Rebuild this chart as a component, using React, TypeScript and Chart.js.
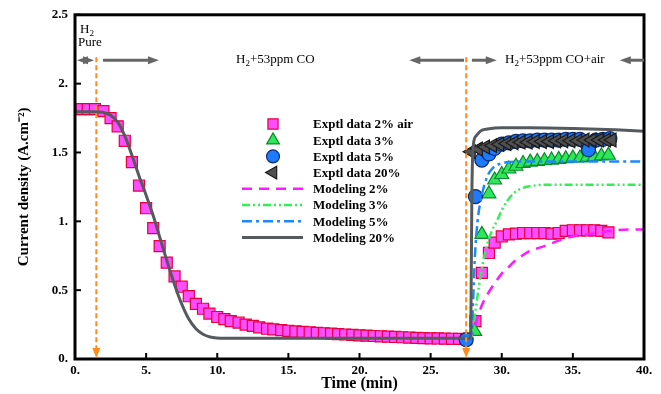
import React, { useEffect, useRef } from "react";
import { Chart, registerables } from "chart.js";

Chart.register(...registerables);

// ---------- tick labels ----------
const xTickLabels = ["0.", "5.", "10.", "15.", "20.", "25.", "30.", "35.", "40."];
const yTickLabels = ["0.", "0.5", "1.", "1.5", "2.", "2.5"];

// ---------- experimental data ----------
const exp2Time = [
  0, 0.45, 0.9, 1.4, 2.0, 2.5, 3.0, 3.5, 4.0, 4.5, 5.0, 5.5, 5.95, 6.45, 7.0, 7.5, 8.0, 8.5, 9.0, 9.45,
  10.0, 10.5, 10.95, 11.5, 12.0, 12.5, 12.95, 13.5, 13.95, 14.5, 15.0, 15.5, 16.0, 16.5, 17.0, 17.5,
  18.0, 18.5, 19.0, 19.5, 20.0, 20.5, 21.0, 21.5, 22.0, 22.5, 23.0, 23.5, 24.0, 24.5, 25.0, 25.5, 26.0,
  26.5, 27.0, 27.5, 28.15, 28.6, 29.1, 29.5, 30.0, 30.5, 31.0, 31.5, 32.0, 32.5, 33.0, 33.5, 34.0, 34.5,
  35.0, 35.5, 36.0, 36.5, 37.0, 37.5,
];
const exp2Value = [
  1.815, 1.815, 1.815, 1.815, 1.8, 1.75, 1.69, 1.585, 1.43, 1.26, 1.095, 0.95, 0.82, 0.7, 0.6, 0.525, 0.456, 0.4, 0.365, 0.33,
  0.305, 0.29, 0.275, 0.265, 0.25, 0.24, 0.23, 0.22, 0.215, 0.21, 0.205, 0.2, 0.197, 0.194, 0.19, 0.187,
  0.184, 0.181, 0.178, 0.175, 0.172, 0.17, 0.167, 0.165, 0.163, 0.16, 0.158, 0.156, 0.154, 0.152, 0.15, 0.149, 0.148,
  0.147, 0.146, 0.145, 0.275, 0.625, 0.77, 0.845, 0.89, 0.905, 0.91, 0.915, 0.915, 0.915, 0.915, 0.91, 0.915, 0.93,
  0.935, 0.935, 0.935, 0.935, 0.93, 0.92,
];

const exp3Time = [28.1, 28.6, 29.1, 29.5, 30.0, 30.5, 31.0, 31.5, 32.0, 32.5, 33.0, 33.5, 34.0, 34.5, 35.0, 35.5, 36.0, 36.5, 37.0, 37.5];
const exp3Value = [0.2, 0.905, 1.2, 1.3, 1.34, 1.38, 1.4, 1.42, 1.43, 1.435, 1.44, 1.445, 1.45, 1.455, 1.46, 1.46, 1.465, 1.47, 1.475, 1.48];

const exp5Time = [27.5, 28.15, 28.6, 29.1, 29.5, 30.0, 30.5, 31.0, 31.5, 32.0, 32.5, 33.0, 33.5, 34.0, 34.5, 35.0, 35.5, 36.1, 36.6, 37.1, 37.6];
const exp5Value = [0.14, 1.18, 1.445, 1.49, 1.53, 1.56, 1.57, 1.58, 1.585, 1.585, 1.59, 1.59, 1.59, 1.59, 1.595, 1.595, 1.595, 1.52, 1.59, 1.595, 1.6];

const exp20Time = [27.85, 28.35, 28.85, 29.35, 29.85, 30.35, 30.85, 31.35, 31.85, 32.35, 32.85, 33.35, 33.85, 34.35, 34.85, 35.35, 35.85, 36.35, 36.85, 37.35, 37.75];
const exp20Value = [1.505, 1.525, 1.54, 1.55, 1.56, 1.565, 1.57, 1.575, 1.575, 1.58, 1.58, 1.58, 1.585, 1.585, 1.585, 1.585, 1.59, 1.59, 1.59, 1.59, 1.59];

// ---------- modeling curves ----------
const mod2Time = [27.5, 27.85, 28.0, 28.3, 28.6, 29.0, 29.5, 30.0, 30.5, 31.0, 31.5, 32.0, 33.0, 34.0, 35.0, 36.0, 37.0, 38.0, 39.0, 40.0];
const mod2Value = [0.15, 0.16, 0.2, 0.3, 0.39, 0.47, 0.55, 0.62, 0.67, 0.72, 0.755, 0.785, 0.82, 0.86, 0.89, 0.905, 0.92, 0.935, 0.94, 0.94];

const mod3Time = [27.5, 27.85, 28.0, 28.15, 28.4, 28.7, 29.0, 29.3, 29.65, 30.0, 30.4, 30.8, 31.3, 32.0, 33.0, 40.0];
const mod3Value = [0.15, 0.16, 0.24, 0.35, 0.53, 0.71, 0.84, 0.93, 1.0, 1.08, 1.15, 1.2, 1.235, 1.255, 1.265, 1.265];

const mod5Time = [27.5, 27.85, 28.0, 28.1, 28.3, 28.6, 29.0, 29.4, 29.8, 30.5, 32.0, 40.0];
const mod5Value = [0.15, 0.18, 0.45, 0.72, 1.0, 1.19, 1.33, 1.39, 1.415, 1.43, 1.435, 1.435];

const mod20Time = [
  0, 1.5, 2.0, 2.5, 3.0, 3.5, 4.0, 4.5, 5.0, 5.5, 6.0, 6.5, 7.0, 7.5, 8.0, 8.5, 9.0, 9.5, 10.0, 11.0,
  27.8, 27.85, 27.9, 28.0, 28.2, 28.5, 29.0, 30.0, 32.0, 35.0, 38.0, 40.0,
];
const mod20Value = [
  1.795, 1.795, 1.79, 1.77, 1.72, 1.62, 1.48, 1.33, 1.19, 1.04, 0.87, 0.7, 0.54, 0.4, 0.29, 0.22, 0.18, 0.16, 0.153, 0.15,
  0.15, 0.5, 1.2, 1.55, 1.62, 1.655, 1.67, 1.68, 1.68, 1.675, 1.665, 1.655,
];

// ---------- legend labels & annotations ----------
const legendLabels = [
  "Exptl data 2% air",
  "Exptl data 3%",
  "Exptl data 5%",
  "Exptl data 20%",
  "Modeling 2%",
  "Modeling 3%",
  "Modeling 5%",
  "Modeling 20%",
];
const switchTimes = [1.5, 27.5];
const phaseArrowY = 2.17;
const phaseArrows = [
  { from: 0.14, to: 1.34, head: "both" },
  { from: 1.97, to: 5.9, head: "end" },
  { from: 23.5, to: 27.35, head: "start" },
  { from: 27.9, to: 29.65, head: "end" },
  { from: 38.3, to: 40, head: "start" },
];

const pts = (t: number[], v: number[]) => t.map((x, i) => ({ x, y: v[i] }));

const FONT = '"Liberation Serif", "Times New Roman", serif';

function drawMarker(ctx: CanvasRenderingContext2D, ds: any, x: number, y: number) {
  const r = ds.pointRadius;
  ctx.save();
  ctx.fillStyle = ds.backgroundColor;
  ctx.strokeStyle = ds.borderColor;
  ctx.lineWidth = ds.borderWidth;
  ctx.beginPath();
  if (ds.pointStyle === "rect") {
    const s = Math.SQRT1_2 * r;
    ctx.rect(x - s, y - s, 2 * s, 2 * s);
  } else if (ds.pointStyle === "circle") {
    ctx.arc(x, y, r, 0, Math.PI * 2);
  } else {
    let rad = ((ds.pointRotation || 0) * Math.PI) / 180;
    ctx.moveTo(x + Math.sin(rad) * r, y - Math.cos(rad) * r);
    rad += (2 * Math.PI) / 3;
    ctx.lineTo(x + Math.sin(rad) * r, y - Math.cos(rad) * r);
    rad += (2 * Math.PI) / 3;
    ctx.lineTo(x + Math.sin(rad) * r, y - Math.cos(rad) * r);
    ctx.closePath();
  }
  ctx.fill();
  ctx.stroke();
  ctx.restore();
}

function drawChem(ctx: CanvasRenderingContext2D, x: number, y: number, rest: string, size: number) {
  ctx.font = `${size}px ${FONT}`;
  ctx.fillText("H", x, y);
  let w = ctx.measureText("H").width;
  ctx.font = `${Math.round(size * 0.7)}px ${FONT}`;
  ctx.fillText("2", x + w, y + 3);
  w += ctx.measureText("2").width;
  ctx.font = `${size}px ${FONT}`;
  if (rest) ctx.fillText(rest, x + w, y);
}

function arrowHead(ctx: CanvasRenderingContext2D, tipX: number, tipY: number, dir: number) {
  ctx.beginPath();
  ctx.moveTo(tipX, tipY);
  ctx.lineTo(tipX - dir * 11, tipY - 4);
  ctx.lineTo(tipX - dir * 11, tipY + 4);
  ctx.closePath();
  ctx.fill();
}

const overlayPlugin = {
  id: "overlay",
  afterDraw(chart: any) {
    const { ctx, chartArea: ca, scales } = chart;
    const xs = scales.x;
    const ys = scales.y;
    ctx.save();

    // inner ticks
    ctx.strokeStyle = "#000";
    ctx.lineWidth = 2;
    xs.ticks.forEach((t: any) => {
      const px = xs.getPixelForValue(t.value);
      ctx.beginPath();
      ctx.moveTo(px, ca.bottom);
      ctx.lineTo(px, ca.bottom - 6);
      ctx.stroke();
    });
    ys.ticks.forEach((t: any) => {
      const py = ys.getPixelForValue(t.value);
      ctx.beginPath();
      ctx.moveTo(ca.left, py);
      ctx.lineTo(ca.left + 6, py);
      ctx.stroke();
    });

    // frame
    ctx.lineWidth = 3;
    ctx.strokeRect(ca.left, ca.top, ca.right - ca.left, ca.bottom - ca.top);

    // orange switch markers
    const arrowYpx = ys.getPixelForValue(phaseArrowY);
    switchTimes.forEach((t) => {
      const px = xs.getPixelForValue(t);
      ctx.strokeStyle = "#FF8C1A";
      ctx.fillStyle = "#FF8C1A";
      ctx.lineWidth = 2;
      ctx.setLineDash([5, 3]);
      ctx.beginPath();
      ctx.moveTo(px, arrowYpx - 3);
      ctx.lineTo(px, ca.bottom - 8);
      ctx.stroke();
      ctx.setLineDash([]);
      ctx.beginPath();
      ctx.moveTo(px, ca.bottom - 1);
      ctx.lineTo(px - 4, ca.bottom - 11);
      ctx.lineTo(px + 4, ca.bottom - 11);
      ctx.closePath();
      ctx.fill();
    });

    // gray phase arrows
    ctx.strokeStyle = "#666666";
    ctx.fillStyle = "#666666";
    ctx.lineWidth = 3;
    phaseArrows.forEach((a) => {
      const x1 = xs.getPixelForValue(a.from);
      const x2 = xs.getPixelForValue(a.to);
      const sx = a.head === "start" || a.head === "both" ? x1 + 8 : x1;
      const ex = a.head === "end" || a.head === "both" ? x2 - 8 : x2;
      ctx.beginPath();
      ctx.moveTo(sx, arrowYpx);
      ctx.lineTo(ex, arrowYpx);
      ctx.stroke();
      if (a.head === "start" || a.head === "both") arrowHead(ctx, x1, arrowYpx, -1);
      if (a.head === "end" || a.head === "both") arrowHead(ctx, x2, arrowYpx, 1);
    });

    // phase texts
    ctx.fillStyle = "#000";
    ctx.textAlign = "left";
    ctx.textBaseline = "alphabetic";
    drawChem(ctx, ca.left + 5, 33, "", 13);
    ctx.font = `13px ${FONT}`;
    ctx.fillText("Pure", ca.left + 3, 46);
    drawChem(ctx, ca.left + 161, 63, "+53ppm CO", 13);
    drawChem(ctx, ca.left + 430, 63, "+53ppm CO+air", 13);

    // legend
    const ds = chart.data.datasets;
    const lx = ca.left + 167;
    const lx2 = ca.left + 228;
    const mx = ca.left + 198;
    const tx = ca.left + 238;
    const y0 = 124;
    const step = 16.2;
    ctx.font = `bold 13px ${FONT}`;
    ctx.textBaseline = "middle";
    for (let i = 0; i < 8; i++) {
      const d = ds[i];
      const yy = y0 + i * step;
      if (i < 4) {
        drawMarker(ctx, { ...d, pointRadius: d.pointRadius * 0.92 }, mx, yy);
      } else {
        ctx.save();
        ctx.strokeStyle = d.borderColor;
        ctx.lineWidth = d.borderWidth;
        ctx.setLineDash(d.borderDash || []);
        ctx.beginPath();
        ctx.moveTo(lx, yy);
        ctx.lineTo(lx2, yy);
        ctx.stroke();
        ctx.restore();
      }
      ctx.fillStyle = "#000";
      ctx.fillText(legendLabels[i], tx, yy + 1);
    }
    ctx.restore();
  },
};

export default function App() {
  const canvasRef = useRef<HTMLCanvasElement | null>(null);

  useEffect(() => {
    const canvas = canvasRef.current;
    if (!canvas) return;
    Chart.defaults.font.family = FONT;
    Chart.defaults.color = "#000";

    const marker = (label: string, data: any, style: string, bg: string, border: string, r: number, order: number, rot = 0) => ({
      label,
      data,
      showLine: false,
      pointStyle: style,
      pointRadius: r,
      pointRotation: rot,
      backgroundColor: bg,
      borderColor: border,
      borderWidth: 1.2,
      pointBackgroundColor: bg,
      pointBorderColor: border,
      pointBorderWidth: 1.2,
      order,
    });
    const model = (label: string, data: any, color: string, dash: number[], width: number, order: number) => ({
      label,
      data,
      showLine: true,
      pointRadius: 0,
      borderColor: color,
      backgroundColor: color,
      borderWidth: width,
      borderDash: dash,
      cubicInterpolationMode: "monotone",
      fill: false,
      order,
    });

    const chart = new Chart(canvas, {
      type: "scatter",
      data: {
        datasets: [
          marker(legendLabels[0], pts(exp2Time, exp2Value), "rect", "#FF4DFF", "#E8003C", 7.8, 7),
          marker(legendLabels[1], pts(exp3Time, exp3Value), "triangle", "#2EE65A", "#0A8A2A", 8, 6),
          marker(legendLabels[2], pts(exp5Time, exp5Value), "circle", "#1E7BFF", "#0A2A6B", 7, 5),
          marker(legendLabels[3], pts(exp20Time, exp20Value), "triangle", "#505050", "#1A1A1A", 8, 4, 270),
          model(legendLabels[4], pts(mod2Time, mod2Value), "#FF1AFF", [10, 7], 2.5, 3),
          model(legendLabels[5], pts(mod3Time, mod3Value), "#33EE55", [8, 3, 2, 3, 2, 3], 2.5, 2),
          model(legendLabels[6], pts(mod5Time, mod5Value), "#1E88FF", [10, 4, 3, 4], 2.5, 1),
          model(legendLabels[7], pts(mod20Time, mod20Value), "#555A5E", [], 3, 0),
        ] as any,
      },
      options: {
        responsive: false,
        animation: false,
        devicePixelRatio: 1,
        layout: { padding: { left: 0, top: 12, right: 17, bottom: 0 } },
        plugins: { legend: { display: false }, tooltip: { enabled: false } },
        scales: {
          x: {
            type: "linear",
            min: 0,
            max: 40,
            ticks: {
              stepSize: 5,
              autoSkip: false,
              maxRotation: 0,
              padding: 4,
              color: "#000",
              font: { size: 13, weight: "bold" },
              callback: (_v: any, i: number) => xTickLabels[i],
            },
            grid: { display: false, drawTicks: false },
            border: { display: false },
            title: {
              display: true,
              text: "Time (min)",
              color: "#000",
              font: { size: 16, weight: "bold" },
              padding: { top: 0, bottom: 1 },
            },
            afterFit: (s: any) => {
              s.height = 35;
            },
          },
          y: {
            type: "linear",
            min: 0,
            max: 2.5,
            ticks: {
              stepSize: 0.5,
              autoSkip: false,
              padding: 7,
              color: "#000",
              font: { size: 13, weight: "bold" },
              callback: (_v: any, i: number) => yTickLabels[i],
            },
            grid: { display: false, drawTicks: false },
            border: { display: false },
            title: {
              display: true,
              text: "Current density (A.cm⁻²)",
              color: "#000",
              font: { size: 15, weight: "bold" },
              padding: { top: 15, bottom: 0 },
            },
            afterFit: (s: any) => {
              s.width = 75;
            },
          },
        },
      } as any,
      plugins: [overlayPlugin],
    });
    return () => chart.destroy();
  }, []);

  return (
    <div style={{ position: "fixed", left: 0, top: 0, width: 661, height: 394, background: "#fff" }}>
      <canvas ref={canvasRef} width={661} height={394} style={{ display: "block", width: 661, height: 394 }} />
    </div>
  );
}
